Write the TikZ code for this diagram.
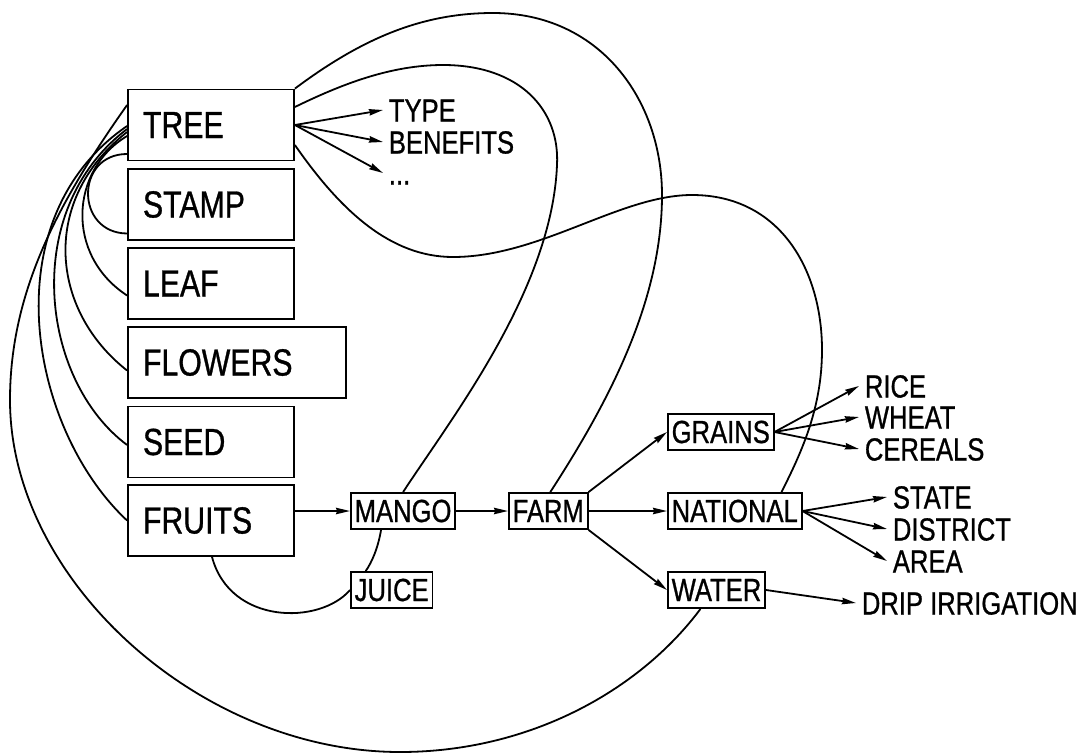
\documentclass[tikz,border=0pt]{standalone}
\usepackage{fontspec}
\setmainfont[FakeStretch=0.8,FakeBold=0.8]{Liberation Sans}
\usetikzlibrary{arrows.meta,calc}
\begin{document}
\begin{tikzpicture}[x=0.5pt,y=-0.5pt,line width=0.9pt,
    bigbox/.style={draw,align=left,text width=68pt,minimum height=35.5pt,inner xsep=7.5pt,
      font=\fontsize{18.9}{20}\selectfont},
    smallbox/.style={draw,anchor=west,inner xsep=1.9pt,inner ysep=0pt,minimum height=18pt,
      font=\fontsize{16}{18}\selectfont},
    lbl/.style={anchor=west,inner xsep=2.5pt,inner ysep=0pt,text height=11.5pt,text depth=0pt,
      font=\fontsize{16}{18}\selectfont},
    arr/.style={-{Stealth[length=7pt,width=3.2pt,inset=0.6pt]}}]
    \useasboundingbox (0,0) rectangle (1092,755);
    % left column
    \node[bigbox] (tree) at (211,125) {TREE};
    \node[bigbox] (stamp) at (211,204.5) {STAMP};
    \node[bigbox] (leaf) at (211,283.5) {LEAF};
    \node[bigbox,text width=94pt] (flowers) at (237,362.5) {FLOWERS};
    \node[bigbox] (seed) at (211,442) {SEED};
    \node[bigbox] (fruits) at (211,520.5) {FRUITS};
    % small boxes
    \node[smallbox] (mango) at (350,511) {MANGO};
    \node[smallbox] (farm) at (508,511) {FARM};
    \node[smallbox] (juice) at (350,590) {JUICE};
    \node[smallbox] (grains) at (667,432) {GRAINS};
    \node[smallbox] (national) at (667,511) {NATIONAL};
    \node[smallbox] (water) at (667,590) {WATER};
    % plain labels
    \node[lbl] (type) at (383,110) {TYPE};
    \node[lbl] (benefits) at (383,142) {BENEFITS};
    \node[lbl] (more) at (383,173) {...};
    \node[lbl] (rice) at (859,386) {RICE};
    \node[lbl] (wheat) at (859,417) {WHEAT};
    \node[lbl] (cereals) at (859,449) {CEREALS};
    \node[lbl] (state) at (887,497) {STATE};
    \node[lbl] (district) at (887,529) {DISTRICT};
    \node[lbl] (area) at (887,561) {AREA};
    \node[lbl] (drip) at (856,603) {DRIP IRRIGATION};
    % arrows
    \foreach \t in {type,benefits,more} \draw[arr] (tree.east) -- (\t.west);
    \foreach \t in {rice,wheat,cereals} \draw[arr] (grains.east) -- (\t.west);
    \foreach \t in {state,district,area} \draw[arr] (national.east) -- (\t.west);
    \draw[arr] (water.east) -- (drip.west);
    \draw[arr] (fruits.east |- mango.west) -- (mango.west);
    \draw[arr] (mango.east) -- (farm.west);
    \draw[arr] (farm.east) -- (national.west);
    \draw[arr] (farm.north east) -- (grains.west);
    \draw[arr] (farm.south east) -- (water.west);
    % links on the left of TREE
    \draw ($(tree.west)+(0,-20)$) .. controls (60,200) and (10,290) .. (10,400)
      .. controls (10,580) and (200,752) .. (400,752)
      .. controls (530,752) and (640,690) .. ($(water.south)+(-16,0)$);
    \draw ($(tree.west)+(0,1)$) .. controls (-10,220) and (30,430) .. (fruits.west);
    \draw ($(tree.west)+(0,4)$) .. controls (20,210) and (40,380) .. ($(seed.west)+(0,3)$);
    \draw ($(tree.west)+(0,7)$) .. controls (40,200) and (50,310) .. ($(flowers.west)+(0,8)$);
    \draw ($(tree.west)+(0,11)$) .. controls (70,170) and (65,255) .. ($(leaf.west)+(0,12)$);
    \draw ($(tree.west)+(0,29)$) .. controls (75,154) and (75,233) .. ($(stamp.west)+(0,29)$);
    % links on the right of TREE
    \draw (tree.north east) .. controls (360,40) and (420,13) .. (493,13)
      .. controls (600,13) and (662,100) .. (662,195)
      .. controls (662,300) and (610,400) .. ($(farm.north)+(2,0)$);
    \draw ($(tree.east)+(0,-18)$) .. controls (340,85) and (390,65) .. (443,65)
      .. controls (520,65) and (560,110) .. (557,165)
      .. controls (552,290) and (450,420) .. (mango.north);
    \draw ($(tree.east)+(0,20)$) .. controls (340,210) and (390,257) .. (453,257)
      .. controls (540,257) and (620,195) .. (692,195)
      .. controls (780,195) and (822,270) .. (822,350)
      .. controls (822,410) and (800,455) .. ($(national.north east)+(-21,0)$);
    % juice
    \draw ($(mango.south)+(-22,0)$) .. controls (378,548) and (372,562) .. ($(juice.north)+(-26,0)$);
    \draw ($(fruits.south)+(1,0)$) .. controls (230,625) and (320,625) .. (juice.west);
\end{tikzpicture}
\end{document}
